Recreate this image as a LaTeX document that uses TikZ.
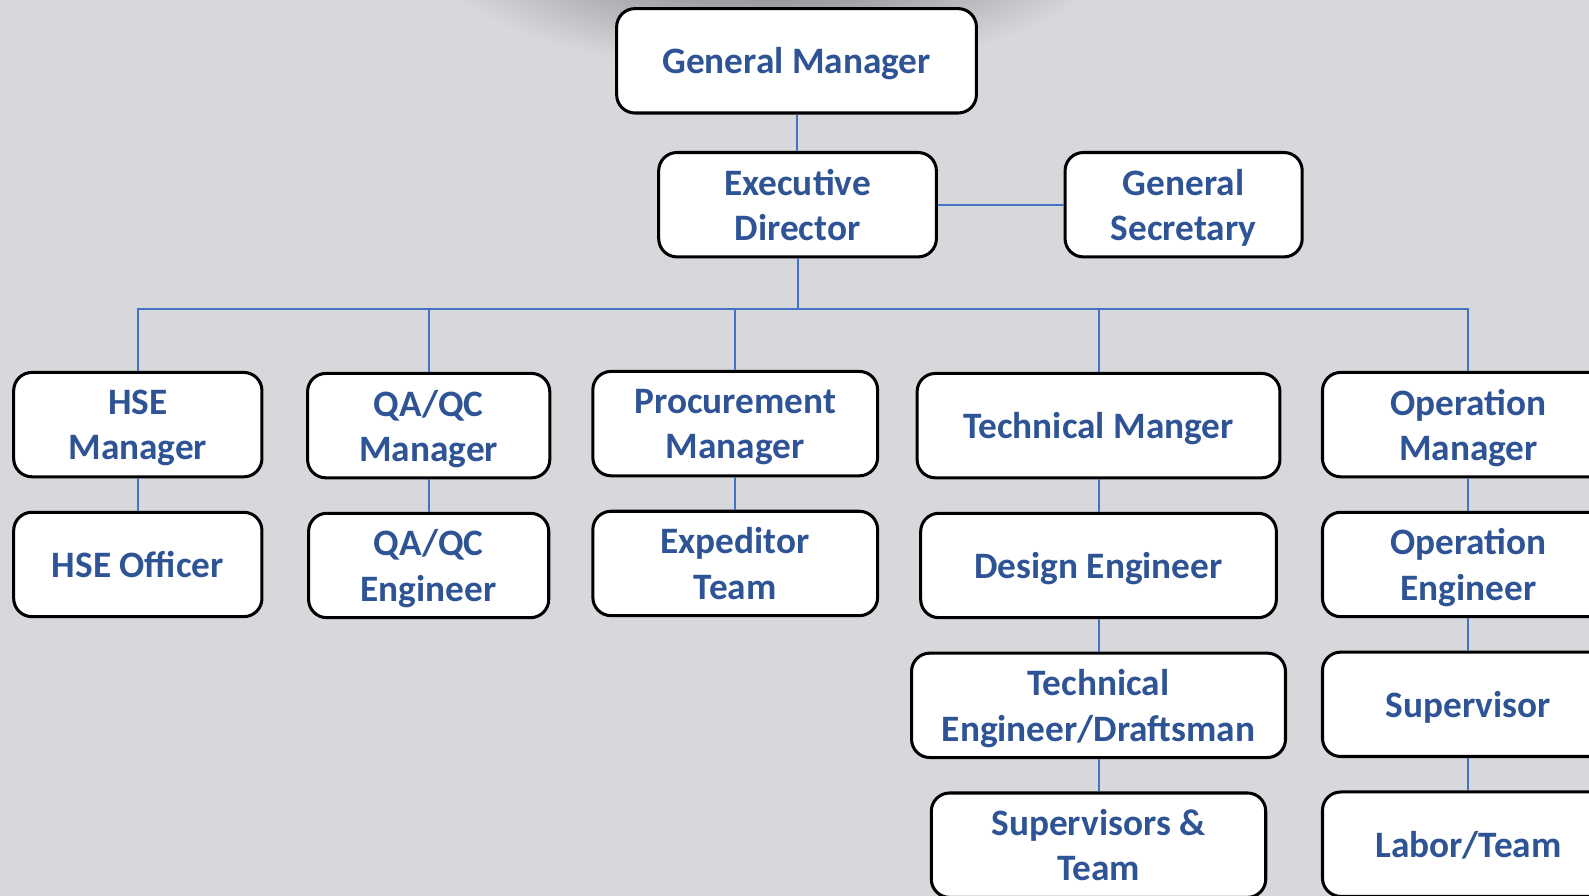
\documentclass[tikz,border=0pt]{standalone}
\usepackage{fontspec}
\setmainfont{Carlito}
\usepackage{xcolor}
\usepackage{tikz}
\usetikzlibrary{positioning,calc}

\definecolor{bgGray}{RGB}{215,216,220}
\definecolor{shadowGray}{RGB}{112,113,117}
\definecolor{titleBlue}{RGB}{47,84,150}
\definecolor{lineBlue}{RGB}{68,114,196}

\begin{document}
\begin{tikzpicture}[
	x=0.5pt, y=-0.5pt,
	font=\bfseries\fontsize{18.4}{22.3}\selectfont,
	% o chuc danh
	box/.style={draw=black, line width=1.5pt, fill=white, rounded corners=9pt,
		text=titleBlue, align=center, minimum height=51.5pt, inner sep=2pt,
		text depth=0pt},
	link/.style={lineBlue, line width=1pt},
	node distance=16pt
	]
	% --- NEN ---
	\fill[bgGray] (0,0) rectangle (1568,884);
	\useasboundingbox (0,0) rectangle (1568,884);
	\begin{scope}
		\clip (0,0) rectangle (1568,884);
		\shade[inner color=shadowGray, outer color=bgGray] (760,-50) ellipse (340 and 120);
		
		% --- CAP TREN ---
		\node[box, minimum width=177.5pt] (gm) at (786,60) {General Manager};
		\node[box, minimum width=137pt] (ed) at (787,202) {Executive\\Director};
		\node[box, minimum width=117pt] (gs) at (1168,202) {General\\Secretary};
		
		% --- CAC PHONG ---
		\node[box, minimum width=122.5pt] (hsem) at (136,419) {HSE\\Manager};
		\node[box, minimum width=122.5pt, below=of hsem] (hseo) {HSE Officer};
		
		\node[box, minimum width=119.5pt] (qam) at (423,420) {QA/QC\\Manager};
		\node[box, minimum width=118.5pt, below=of qam] (qae) {QA/QC\\Engineer};
		
		\node[box, minimum width=140.5pt] (prm) at (725.5,418) {Procurement\\Manager};
		\node[box, minimum width=140.5pt, below=of prm] (exp) {Expeditor\\Team};
		
		\node[box, minimum width=179pt] (tm) at (1084,420) {Technical Manger};
		\node[box, minimum width=175.5pt, below=of tm] (de) {Design Engineer};
		\node[box, minimum width=184.5pt, below=of de] (ted) {Technical\\Engineer/Draftsman};
		\node[box, minimum width=165pt, below=of ted] (st) {Supervisors \&\\Team};
		
		\node[box, minimum width=144pt] (om) at (1449,419) {Operation\\Manager};
		\node[box, minimum width=144pt, below=of om] (oe) {Operation\\Engineer};
		\node[box, minimum width=144pt, below=of oe] (sup) {Supervisor};
		\node[box, minimum width=144pt, below=of sup] (lab) {Labor/Team};
		
		% --- DUONG NOI ---
		\draw[link] (gm.south) -- (gm.south |- ed.north);
		\draw[link] (ed) -- (gs);
		\coordinate (bus) at ($(ed.south)+(0,50)$);
		\draw[link] (ed.south) -- (bus);
		\draw[link] (hsem.north) |- (bus) -| (om.north);
		\foreach \n in {qam,prm,tm}
		\draw[link] (\n.north) -- (\n.north |- bus);
		\foreach \a/\b in {hsem/hseo,qam/qae,prm/exp,tm/de,de/ted,ted/st,om/oe,oe/sup,sup/lab}
		\draw[link] (\a.south) -- (\b.north);
	\end{scope}
\end{tikzpicture}
\end{document}
